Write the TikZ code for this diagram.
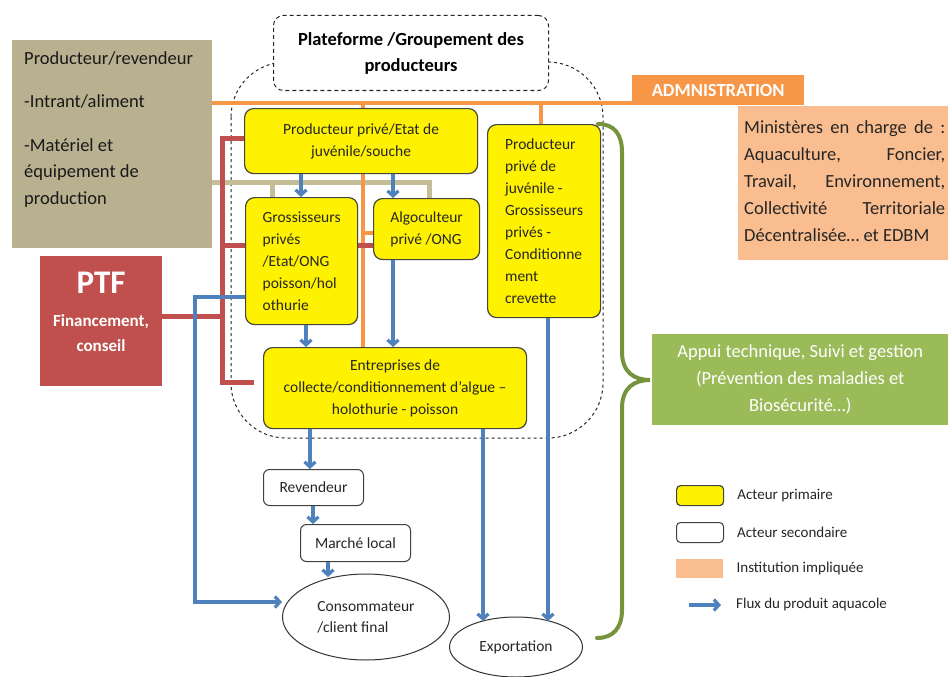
\documentclass[tikz,border=0pt]{standalone}
\usepackage{fontspec}
\setmainfont{Carlito}
\usetikzlibrary{arrows.meta,shapes.geometric}
\pgfdeclarelayer{bg}
\pgfsetlayers{bg,main}
\definecolor{tanfill}{HTML}{B8B08F}
\definecolor{tanline}{HTML}{C4BD97}
\definecolor{ptfred}{HTML}{C0504D}
\definecolor{orng}{HTML}{F79646}
\definecolor{peach}{HTML}{F9BD8F}
\definecolor{grnbox}{HTML}{9BBB59}
\definecolor{bracegreen}{HTML}{77933C}
\definecolor{flowblue}{HTML}{4F81BD}
\definecolor{ybord}{HTML}{45453A}
\definecolor{txt}{HTML}{262626}
\newcommand{\fsz}[2]{\fontsize{#1}{#2}\selectfont}
\begin{document}
\begin{tikzpicture}[x=1pt,y=-1pt,
 every node/.style={text=txt},
 ybox/.style={draw=ybord, fill=yellow, line width=1.2pt, rounded corners=9pt, anchor=north west, font=\fsz{15.5}{22}, inner sep=0pt},
 wbox/.style={draw=black!75, fill=white, line width=1pt, rounded corners=6pt, anchor=north west, font=\fsz{15.5}{20}, inner sep=0pt},
 oval/.style={ellipse, draw=black!80, fill=white, line width=1pt, font=\fsz{15.5}{21}, inner sep=0pt},
 oline/.style={draw=orng, line width=4pt},
 rline/.style={draw=ptfred, line width=5pt},
 tline/.style={draw=tanline, line width=5pt},
 barrow/.style={draw=flowblue, line width=3.2pt, -{Straight Barb[length=5pt,width=11pt]}},
 legtxt/.style={anchor=west, inner sep=0pt, font=\fsz{15}{18}},
]
\useasboundingbox (0,0) rectangle (948,677);
\begin{pgfonlayer}{bg}
\fill[white] (0,0) rectangle (948,677);
\end{pgfonlayer}

% ---------- nodes ----------
\node[fill=tanfill, minimum width=200pt, minimum height=208pt, anchor=north west, inner sep=0pt] (tan) at (12,40) {};
\node[anchor=north west, align=left, inner sep=0pt, font=\fsz{18.5}{26.5}, text=black!90] (tantxt) at (24,51)
 {Producteur/revendeur\\[17pt]-Intrant/aliment\\[17pt]-Matériel et\\équipement de\\production};

\node[fill=ptfred, minimum width=122pt, minimum height=130pt, anchor=north west, inner sep=0pt] (ptf) at (40,256) {};
\node[anchor=north, inner sep=0pt, font=\fsz{33}{33}\bfseries, text=white] (ptfa) at (101,272) {PTF};
\node[anchor=north, inner sep=0pt, align=center, font=\fsz{17}{25}\bfseries, text=white] (ptfb) at (101,314) {Financement,\\conseil};

\node[draw=black!85, dash pattern=on 4pt off 3pt, line width=1pt, fill=white, rounded corners=10pt,
  minimum width=275pt, minimum height=75pt, anchor=north west, inner sep=0pt, align=center,
  font=\fsz{18.5}{26}\bfseries, text=black] (plat) at (273,15) {Plateforme /Groupement des\\producteurs};

\node[fill=orng, minimum width=172pt, minimum height=30pt, anchor=north west, inner sep=0pt,
  font=\fsz{18.5}{20}\bfseries, text=white] (adm) at (632,75) {ADMNISTRATION};

\node[fill=peach, minimum width=210pt, minimum height=154pt, anchor=north west, inner sep=0pt] (mini) at (738,106) {};
\node[anchor=north west, inner sep=0pt, align=left, font=\fsz{18.5}{27}] (minitxt) at (744,120)
 {\makebox[201pt][s]{Ministères en charge de :}\\
  \makebox[201pt][s]{Aquaculture, Foncier,}\\
  \makebox[201pt][s]{Travail, Environnement,}\\
  \makebox[201pt][s]{Collectivité Territoriale}\\
  Décentralisée… et EDBM};

\node[fill=grnbox, minimum width=296pt, minimum height=91pt, anchor=north west, inner sep=0pt,
  align=center, font=\fsz{18.5}{27}, text=white] (appui) at (652,334)
 {Appui technique, Suivi et gestion\\(Prévention des maladies et\\Biosécurité…)};

\node[ybox, minimum width=233pt, minimum height=65pt, align=center] (p1) at (244,108)
 {Producteur privé/Etat de\\juvénile/souche};
\node[ybox, minimum width=112pt, minimum height=127pt, align=left] (gross) at (245,197)
 {Grossisseurs\\privés\\/Etat/ONG\\poisson/hol\\othurie};
\node[ybox, minimum width=106pt, minimum height=61pt, align=left] (algo) at (373,198)
 {Algoculteur\\privé /ONG};
\node[ybox, minimum width=113pt, minimum height=193pt, align=left] (crev) at (487,124)
 {Producteur\\privé de\\juvénile -\\Grossisseurs\\privés -\\Conditionne\\ment\\crevette};
\node[ybox, minimum width=263pt, minimum height=81pt, align=center] (ent) at (263,347)
 {Entreprises de\\collecte/conditionnement d’algue –\\holothurie - poisson};

\node[wbox, minimum width=100pt, minimum height=36pt] (rev) at (263,469) {Revendeur};
\node[wbox, minimum width=110pt, minimum height=37pt] (mar) at (300,524) {Marché local};
\node[oval, minimum width=167pt, minimum height=86pt, align=left] (cons) at (366,617) {Consommateur\\/client final};
\node[oval, minimum width=133pt, minimum height=60pt] (expo) at (516,647) {Exportation};

% legend
\node[draw=ybord, fill=yellow, line width=1.2pt, rounded corners=4pt, minimum width=47pt, minimum height=20pt, anchor=north west, inner sep=0pt] (lg1) at (676,485) {};
\node[legtxt] (lg1t) at ([xshift=13pt]lg1.east) {Acteur primaire};
\node[draw=black!75, fill=white, line width=1pt, rounded corners=4pt, minimum width=47pt, minimum height=20pt, anchor=north west, inner sep=0pt] (lg2) at (676,522) {};
\node[legtxt] (lg2t) at ([xshift=13pt]lg2.east) {Acteur secondaire};
\node[fill=peach, minimum width=47pt, minimum height=19pt, anchor=north west, inner sep=0pt] (lg3) at (676,559) {};
\node[legtxt] (lg3t) at ([xshift=13pt]lg3.east) {Institution impliquée};
\coordinate (la1) at (689,605);
\coordinate (la2) at (721,605);
\node[legtxt] (lg4t) at (736,604) {Flux du produit aquacole};

% ---------- background lines ----------
\begin{pgfonlayer}{bg}
\draw[black!85, line width=1pt, dash pattern=on 3pt off 3pt, rounded corners=55pt] (231,62) rectangle (603,438);

% tan
\coordinate (ty) at (0,182);
\coordinate (tx1) at (272,0);
\coordinate (tx2) at (429,0);
\draw[tline] (tan.east|-ty) -- (tx2|-ty) -- (tx2|-algo.north);
\draw[tline] (tx1|-ty) -- (tx1|-gross.north);

% orange
\coordinate (oy) at (0,103);
\coordinate (oy2) at (0,233);
\coordinate (ox1) at (363,0);
\coordinate (ox2) at (541,0);
\draw[oline] (tan.east|-oy) -- (adm.west|-oy);
\draw[oline] (ox1|-oy) -- (ox1|-p1.north);
\draw[oline] (ox1|-p1.south) -- (ox1|-ent.north);
\draw[oline] (ox1|-oy2) -- (algo.west|-oy2);
\draw[oline] (ox2|-oy) -- (ox2|-crev.north);

% red
\coordinate (rx) at (222,0);
\coordinate (ry0) at (0,316);
\coordinate (ry1) at (0,138);
\coordinate (ry2) at (0,245);
\coordinate (ry3) at (0,382);
\draw[rline] (ptf.east|-ry0) -- (rx|-ry0);
\draw[rline, shorten >=9pt] (p1.west|-ry1) -- (rx|-ry1) -- (rx|-ry3) -- (ent.west|-ry3);
\draw[rline] (rx|-ry2) -- (gross.west|-ry2);
\draw[rline] (gross.east|-ry2) -- (algo.west|-ry2);

% green brace
\draw[bracegreen, line width=4pt, line cap=round]
  (598,124) .. controls (614,124) and (622,134) .. (622,152) -- (622,352)
  .. controls (622,372) and (634,380) .. (650,380)
  .. controls (634,380) and (622,388) .. (622,408) -- (622,610)
  .. controls (622,628) and (613,638) .. (597,638);
\end{pgfonlayer}

% blue flows
\coordinate (bx0) at (195,0);
\coordinate (bx1) at (301,0);
\coordinate (bx2) at (393,0);
\coordinate (bx3) at (306,0);
\coordinate (bx4) at (310,0);
\coordinate (bx5) at (313,0);
\coordinate (bx6) at (328,0);
\coordinate (bx7) at (483,0);
\coordinate (bx8) at (548,0);
\coordinate (by1) at (0,297);
\coordinate (by2) at (0,602);
\coordinate (ey) at (0,621);
\coordinate (cy) at (0,577);
\draw[barrow] (bx1|-p1.south) -- (bx1|-gross.north);
\draw[barrow] (bx2|-p1.south) -- (bx2|-algo.north);
\draw[barrow] (bx3|-gross.south) -- (bx3|-ent.north);
\draw[barrow] (bx2|-algo.south) -- (bx2|-ent.north);
\draw[barrow] (bx4|-ent.south) -- (bx4|-rev.north);
\draw[barrow] (bx5|-rev.south) -- (bx5|-mar.north);
\draw[barrow] (bx6|-mar.south) -- (bx6|-cy);
\draw[barrow] (gross.west|-by1) -- (bx0|-by1) -- (bx0|-by2) -- (cons.west|-by2);
\draw[barrow] (bx7|-ent.south) -- (bx7|-ey);
\draw[barrow] (bx8|-crev.south) -- (bx8|-ey);
\draw[barrow] (la1) -- (la2);
\end{tikzpicture}
\end{document}
